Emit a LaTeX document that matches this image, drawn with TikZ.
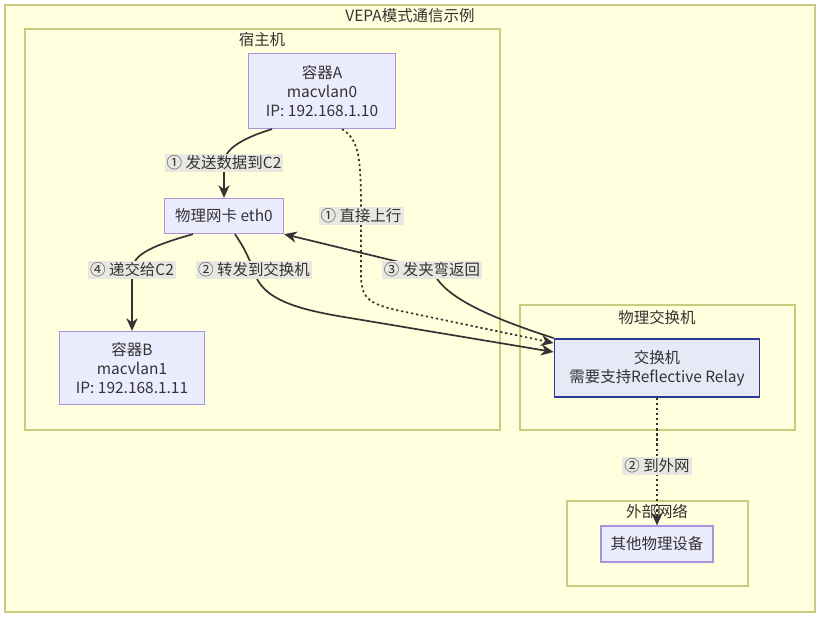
\documentclass[tikz,border=0pt]{standalone}
\usepackage{fontspec}
\setmainfont{Noto Sans CJK SC}
\usepackage{xcolor}
\usetikzlibrary{arrows.meta,positioning}
\definecolor{clusterfill}{HTML}{FFFFDE}
\definecolor{clusterline}{HTML}{CBCB80}
\definecolor{boxfill}{HTML}{ECECFF}
\definecolor{boxline}{HTML}{A894DE}
\definecolor{relayfill}{HTML}{E6EAF7}
\definecolor{relayline}{HTML}{2B3990}
\definecolor{lblfill}{HTML}{E8E8E2}
\definecolor{ink}{HTML}{333333}

\begin{document}
\begin{tikzpicture}[>={Stealth[length=9pt,width=8pt]},
                    every node/.style={font=\fontsize{11}{13.5}\selectfont, text=ink},
                    cluster/.style={draw=clusterline, fill=clusterfill, line width=0.9pt},
                    box/.style={draw=boxline, fill=boxfill, line width=0.9pt, align=center},
                    relaybox/.style={draw=relayline, fill=relayfill, line width=1.3pt, align=center},
                    edgelbl/.style={fill=lblfill, inner sep=1.5pt},
                    flow/.style={->, draw=ink, line width=1.2pt},
                    uplink/.style={flow, dash pattern=on 1.6pt off 2pt}]
  \useasboundingbox (0,0) rectangle (20.5,-15.45);
  % clusters
  \draw[cluster] (0.125,-0.125) rectangle (20.375,-15.3);
  \node (tVepa) at (10.25,-0.4) {VEPA模式通信示例};
  \draw[cluster] (0.625,-0.725) rectangle (12.5,-10.75);
  \node (tHost) at (6.55,-1.0) {宿主机};
  \draw[cluster] (13,-7.625) rectangle (19.875,-10.75);
  \node (tSwitch) at (16.425,-7.95) {物理交换机};
  \draw[cluster] (14.175,-12.525) rectangle (18.7,-14.65);
  \node (tExt) at (16.425,-12.8) {外部网络};
  % nodes
  \node[box, minimum width=3.675cm, minimum height=1.875cm] (ctrA) at (8.05,-2.275)
       {容器A\\macvlan0\\IP: 192.168.1.10};
  \node[box, minimum width=2.975cm, minimum height=0.875cm] (eth0) at (5.6,-5.4)
       {物理网卡 eth0};
  \node[box, minimum width=3.625cm, minimum height=1.825cm] (ctrB) at (3.3,-9.2)
       {容器B\\macvlan1\\IP: 192.168.1.11};
  \node[relaybox, minimum width=5.125cm, minimum height=1.45cm] (relay) at (16.425,-9.2)
       {交换机\\需要支持Reflective Relay};
  \node[box, minimum width=2.8cm, minimum height=0.9cm] (peer) at (16.425,-13.6)
       {其他物理设备};
  % label spots
  \coordinate (pSend)    at (5.6,-4.075);
  \coordinate (pDirect)  at (9.025,-5.4);
  \coordinate (pFwd)     at (6.35,-6.75);
  \coordinate (pHairpin) at (10.8,-6.75);
  \coordinate (pHand)    at (3.3,-6.75);
  \coordinate (pOut)     at (16.425,-11.65);
  % connectors
  \draw[flow] ([xshift=-1.25cm]ctrA.south) .. controls (5.9,-3.5) and (5.6,-3.8) .. (pSend)
              -- (eth0.north);
  \draw[uplink] ([xshift=0.5cm]ctrA.south) .. controls (9.0,-3.5) and (9.025,-4.0) .. (pDirect)
                -- (9.025,-6.95) .. controls (9.05,-7.5) and (9.3,-7.6) .. (9.9,-7.75)
                -- ([yshift=0.625cm]relay.west);
  \draw[flow] ([xshift=0.275cm]eth0.south) .. controls (6.1,-6.2) .. (pFwd)
              .. controls (6.5,-7.5) and (7.5,-7.75) .. (8.75,-7.95)
              -- ([yshift=0.4cm]relay.west);
  \draw[flow] (relay.north west) .. controls (11.5,-7.7) and (11.0,-7.2) .. (pHairpin)
              -- (eth0.south east);
  \draw[flow] ([xshift=-0.775cm]eth0.south) .. controls (3.6,-6.2) and (3.35,-6.4) .. (pHand)
              -- (ctrB.north);
  \draw[uplink] (relay.south) -- (pOut) -- (peer.north);
  % edge labels
  \node[edgelbl] (lSend)    at (pSend)    {① 发送数据到C2};
  \node[edgelbl] (lDirect)  at (pDirect)  {① 直接上行};
  \node[edgelbl] (lFwd)     at (pFwd)     {② 转发到交换机};
  \node[edgelbl] (lHairpin) at (pHairpin) {③ 发夹弯返回};
  \node[edgelbl] (lHand)    at (pHand)    {④ 递交给C2};
  \node[edgelbl] (lOut)     at (pOut)     {② 到外网};
\end{tikzpicture}
\end{document}
